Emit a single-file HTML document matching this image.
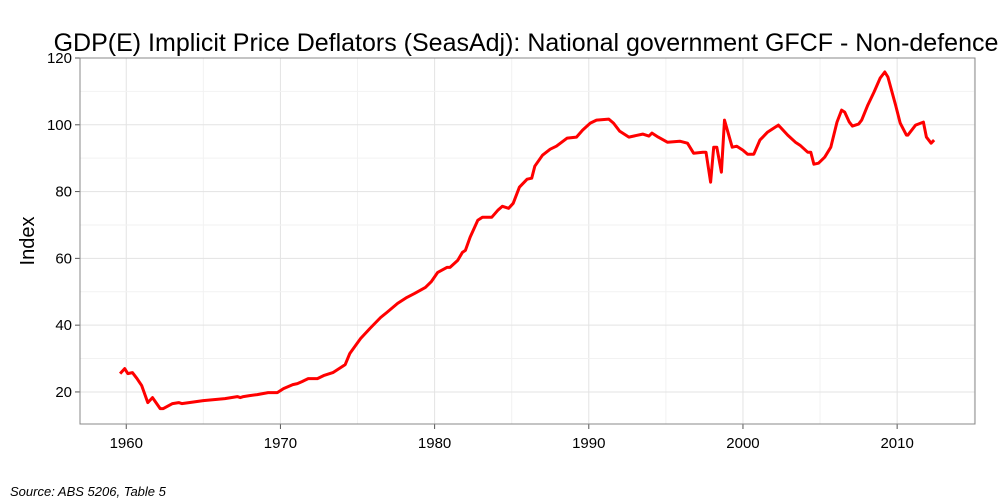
<!DOCTYPE html>
<html><head><meta charset="utf-8"><style>
html,body{margin:0;padding:0;background:#fff;}
svg{display:block;font-family:"Liberation Sans",sans-serif;}
</style></head><body>
<svg id="chart" width="1000" height="500">
<text x="526" y="51" font-size="25" text-anchor="middle" fill="#000">GDP(E) Implicit Price Deflators (SeasAdj): National government GFCF - Non-defence</text>
<text x="34" y="241" font-size="20" text-anchor="middle" transform="rotate(-90 34 241)">Index</text>
<text x="10" y="496" font-size="13" font-style="italic">Source: ABS 5206, Table 5</text>
<g id="grid"></g><g id="axes"></g><g id="series"></g>
<rect x="80" y="58" width="895" height="366" fill="none" stroke="#888" stroke-width="1"/>
</svg>
<script>
const years=[1959.6,1959.9,1960.1,1960.4,1960.7,1961.0,1961.4,1961.7,1962.2,1962.4,1963.0,1963.4,1963.6,1965.0,1966.4,1967.2,1967.4,1967.6,1968.0,1968.5,1969.2,1969.8,1970.2,1970.8,1971.1,1971.4,1971.8,1972.4,1972.8,1973.4,1973.9,1974.2,1974.5,1975.2,1975.8,1976.5,1976.9,1977.6,1978.2,1978.7,1979.4,1979.8,1980.2,1980.8,1981.0,1981.5,1981.8,1982.0,1982.3,1982.8,1983.1,1983.4,1983.7,1984.1,1984.4,1984.8,1985.1,1985.5,1986.0,1986.3,1986.5,1987.0,1987.5,1987.9,1988.6,1989.2,1989.6,1990.1,1990.5,1991.3,1991.6,1992.0,1992.6,1993.5,1993.9,1994.1,1994.5,1995.1,1995.9,1996.4,1996.8,1997.4,1997.6,1997.9,1998.1,1998.3,1998.6,1998.8,1999.3,1999.6,2000.0,2000.3,2000.7,2001.1,2001.6,2002.3,2002.9,2003.4,2003.7,2004.2,2004.4,2004.6,2004.9,2005.3,2005.7,2006.1,2006.4,2006.6,2006.9,2007.1,2007.5,2007.7,2008.1,2008.5,2008.9,2009.2,2009.4,2009.9,2010.2,2010.6,2010.7,2011.2,2011.7,2011.9,2012.2,2012.4];
const values=[25.5,27,25.5,25.8,24,21.9,16.8,18.3,15,15,16.5,16.8,16.5,17.4,18,18.6,18.3,18.6,18.9,19.2,19.8,19.8,21,22.2,22.5,23.1,24,24,24.9,25.8,27.3,28.2,31.5,36,39,42.3,43.8,46.5,48.3,49.5,51.3,53.1,55.8,57.3,57.3,59.4,61.8,62.4,66.3,71.4,72.3,72.3,72.3,74.4,75.6,75,76.5,81.3,83.7,84,87.6,90.9,92.7,93.6,96,96.3,98.4,100.5,101.4,101.7,100.5,98.1,96.3,97.2,96.6,97.5,96.3,94.8,95.1,94.5,91.5,91.8,91.8,82.8,93.3,93.3,85.8,101.4,93.3,93.6,92.4,91.2,91.2,95.4,97.8,99.9,96.9,94.8,93.9,91.8,91.8,88.2,88.5,90.3,93.3,100.8,104.4,103.8,100.8,99.6,100.2,101.4,105.9,109.8,114,115.8,114.3,105.9,100.5,96.9,96.9,99.9,100.8,96.3,94.5,95.4];
const xTicks=[1960,1970,1980,1990,2000,2010];
const yTicks=[20,40,60,80,100,120];
const X0=80,X1=975,Y0=424,Y1=58,xMin=1957.0,xMax=2015.05,yMin=10.4,yMax=120;
const xs=v=>X0+(v-xMin)/(xMax-xMin)*(X1-X0);
const ys=v=>Y0-(v-yMin)/(yMax-yMin)*(Y0-Y1);
const NS="http://www.w3.org/2000/svg";
function mk(tag,attrs,parent){const e=document.createElementNS(NS,tag);for(const k in attrs)e.setAttribute(k,attrs[k]);parent.appendChild(e);return e;}
const grid=document.getElementById('grid'),axes=document.getElementById('axes'),series=document.getElementById('series');
for(let i=0;i<xTicks.length;i++){
  const t=xTicks[i],x=xs(t);
  const g=mk('line',{x1:x,x2:x,y1:Y1,y2:Y0,stroke:'#e3e3e3','stroke-width':1},grid);
  
  
  const m=xs(t+5);
  if(m<X1){const mg=mk('line',{x1:m,x2:m,y1:Y1,y2:Y0,stroke:'#f2f2f2','stroke-width':1},grid);
  
  }
  if(i===0){const mm=xs(t-5);if(mm>X0){const mg2=mk('line',{x1:mm,x2:mm,y1:Y1,y2:Y0,stroke:'#f2f2f2','stroke-width':1},grid);
  
  }}
  const tk=mk('line',{x1:x,x2:x,y1:Y0,y2:Y0+5,stroke:'#555','stroke-width':1},axes);
  
  
  const lb=mk('text',{x:x,y:Y0+24,'font-size':15,'text-anchor':'middle',fill:'#000'},axes);
  lb.textContent=t;
  
  
}
for(let i=0;i<yTicks.length;i++){
  const t=yTicks[i],y=ys(t);
  const g=mk('line',{x1:X0,x2:X1,y1:y,y2:y,stroke:'#e3e3e3','stroke-width':1},grid);
  
  
  const m=ys(t-10);
  if(m<Y0){const mg=mk('line',{x1:X0,x2:X1,y1:m,y2:m,stroke:'#f2f2f2','stroke-width':1},grid);
  
  }
  const tk=mk('line',{x1:X0-5,x2:X0,y1:y,y2:y,stroke:'#555','stroke-width':1},axes);
  
  
  const lb=mk('text',{x:X0-8,y:y+5,'font-size':15,'text-anchor':'end',fill:'#000'},axes);
  lb.textContent=t;
  
  
}
let d='';
for(let i=0;i<years.length;i++){d+=(i?'L':'M')+xs(years[i]).toFixed(1)+','+ys(values[i]).toFixed(1);}
const p=mk('path',{d:d,fill:'none',stroke:'#ff0000','stroke-width':3,'stroke-linejoin':'round'},series);


</script>
</body></html>
